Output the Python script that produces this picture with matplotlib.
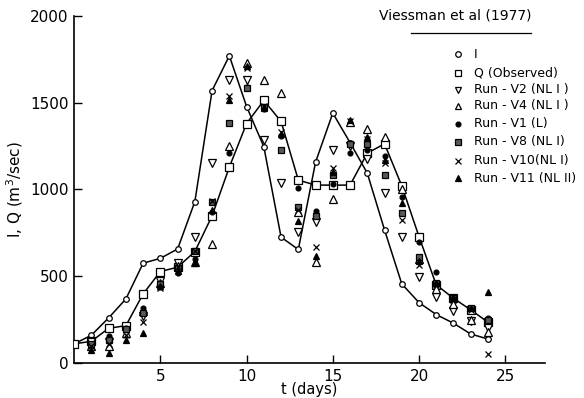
"""
Inflow / outflow hydrograph vs. routing runs (Viessman et al, 1977).
Values read off the scanned figure.
"""

import matplotlib.pyplot as plt
from matplotlib.lines import Line2D


days = list(range(0, 25))
run_days = list(range(1, 25))

inflow = [110, 160, 260, 369, 575, 603, 657, 930, 1570, 1770, 1478, 1246, 725,
          654, 1157, 1440, 1270, 1094, 767, 456, 348, 279, 229, 167, 138]
observed = [110, 125, 200, 215, 398, 527, 552, 642, 848, 1129, 1380, 1513, 1392,
            1054, 1025, 1025, 1025, 1209, 1263, 1021, 728, 450, 373, 306, 235]

run_v2 = [120, 120, 180, 270, 470, 575, 728, 1152, 1628, 1628, 1286, 1036,
          757, 815, 1228, 1250, 1176, 982, 725, 494, 379, 302, 244, 200]
run_v4 = [100, 100, 170, 300, 460, 560, 580, 686, 1248, 1728, 1632, 1555,
          870, 584, 946, 1390, 1348, 1301, 1000, 600, 425, 340, 250, 181]
run_v1 = [105, 155, 200, 315, 440, 520, 600, 870, 1209, 1590, 1465, 1310,
          1007, 873, 1030, 1209, 1230, 1190, 959, 700, 527, 380, 315, 260]
run_v8 = [110, 130, 195, 290, 455, 545, 645, 925, 1382, 1584, 1475, 1225,
          900, 848, 1084, 1261, 1260, 1084, 863, 613, 460, 375, 315, 248]
run_v10 = [95, 110, 160, 235, 430, 555, 645, 935, 1540, 1700, 1480, 1330,
           880, 671, 1123, 1395, 1290, 1150, 825, 565, 450, 365, 305, 52]
run_v11 = [75, 58, 130, 175, 445, 530, 575, 880, 1515, 1710, 1470, 1320,
           820, 617, 1100, 1400, 1305, 1170, 921, 590, 460, 378, 318, 408]

legend_labels = ["I", "Q (Observed)", "Run - V2 (NL I )", "Run - V4 (NL I )",
                 "Run - V1 (L)", "Run - V8 (NL I)", "Run - V10(NL I)",
                 "Run - V11 (NL II)"]

plt.rcParams["font.family"] = ["DejaVu Sans"]

fig = plt.figure(figsize=(5.84, 3.98), dpi=100)
ax = fig.add_axes([0.127, 0.088, 0.806, 0.872])

ax.plot(days, inflow, color="black", lw=1.1, marker="o", ms=4,
        mfc="white", mec="black", mew=0.9, zorder=3)
ax.plot(days, observed, color="black", lw=1.1, marker="s", ms=6,
        mfc="white", mec="black", mew=0.9, zorder=3)

# (values, marker, size, facecolor)
runs = [
    (run_v2, "v", 5.5, "white"),
    (run_v4, "^", 5.5, "white"),
    (run_v1, "o", 3.5, "black"),
    (run_v8, "s", 4.5, "0.35"),
    (run_v10, "x", 4.5, "black"),
    (run_v11, "^", 5, "black"),
]
for vals, mk, ms, fc in runs:
    ax.plot(run_days, vals, ls="none", marker=mk, ms=ms, mfc=fc,
            mec="black", mew=0.9, color="black", zorder=4)

ax.set_xlim(0, 27.3)
ax.set_ylim(0, 2000)
ax.set_xticks([5, 10, 15, 20, 25])
ax.set_yticks([0, 500, 1000, 1500, 2000])
ax.tick_params(direction="in", length=6, width=1, labelsize=11, pad=4)
for side in ("top", "right"):
    ax.spines[side].set_visible(False)
for side in ("left", "bottom"):
    ax.spines[side].set_linewidth(1.2)

ax.set_xlabel("t (days)", fontsize=10.5, labelpad=-1)
ax.set_ylabel("I, Q (m$^3$/sec)", fontsize=11, labelpad=4)

# legend drawn by hand, like the scanned figure
ax.text(0.91, 0.962, "Viessman et al (1977)", transform=fig.transFigure,
        ha="right", va="center", fontsize=10)
fig.add_artist(Line2D([0.703, 0.91], [0.917, 0.917], color="black", lw=0.9))

handles = [
    dict(marker="o", ms=4, mfc="white"),
    dict(marker="s", ms=5, mfc="white"),
    dict(marker="v", ms=5, mfc="white"),
    dict(marker="^", ms=5, mfc="white"),
    dict(marker="o", ms=3.5, mfc="black"),
    dict(marker="s", ms=4.5, mfc="0.35"),
    dict(marker="x", ms=4.5, mfc="black"),
    dict(marker="^", ms=5, mfc="black"),
]
row_y = [54, 72.5, 89.5, 106, 123.5, 142, 161, 178]
for h, label, yp in zip(handles, legend_labels, row_y):
    yf = 1 - yp / 398
    fig.add_artist(Line2D([458 / 584], [yf], ls="none", mec="black",
                          mew=0.9, color="black", **h))
    fig.text(474 / 584, yf, label, ha="left", va="center", fontsize=9)

fig.savefig("out.png", dpi=100)
